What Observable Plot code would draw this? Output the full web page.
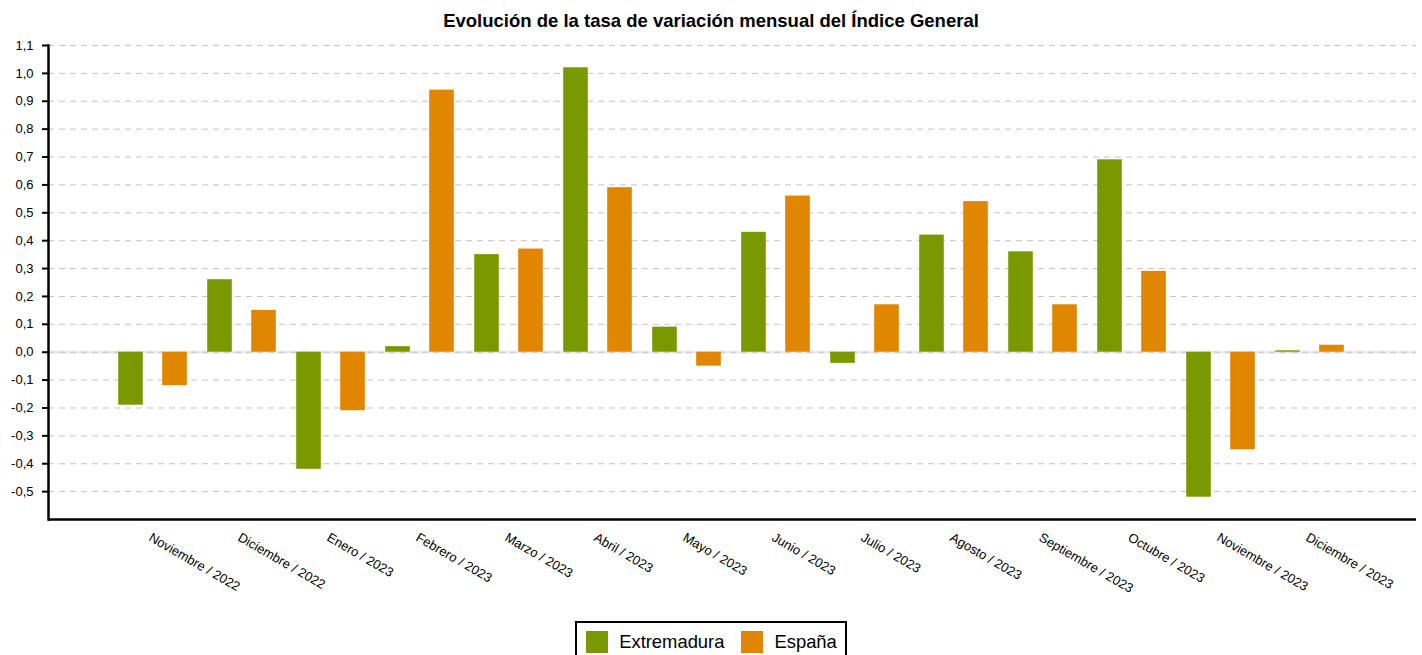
<!DOCTYPE html>
<html>
<head>
<meta charset="utf-8">
<script src="https://cdn.jsdelivr.net/npm/d3@7"></script>
<script src="https://cdn.jsdelivr.net/npm/@observablehq/plot@0.6"></script>
<style>
  body { margin: 0; background: #fff; font-family: "Liberation Sans", Arial, sans-serif; }
  #title { height: 34px; box-sizing: border-box; padding-top: 10px; line-height: 22px; text-align: center; font-weight: bold; font-size: 18.5px; color: #000; }
  #chart svg { display: block; }
  #legend { display: flex; justify-content: center; margin-top: 21px; }
  #legend .box { display: inline-flex; align-items: center; border: 2px solid #000; padding: 8px 8px 8px 9px; font-size: 18.4px; color: #000; }
  #legend .sw { width: 22px; height: 22px; margin-right: 11px; }
  #legend .item { display: inline-flex; align-items: center; }
  #legend .item + .item { margin-left: 17px; }
</style>
</head>
<body>
<div id="title">Evolución de la tasa de variación mensual del Índice General</div>
<div id="chart"></div>
<div id="legend"></div>
<script>
const months = ["Noviembre / 2022", "Diciembre / 2022", "Enero / 2023", "Febrero / 2023", "Marzo / 2023", "Abril / 2023", "Mayo / 2023", "Junio / 2023", "Julio / 2023", "Agosto / 2023", "Septiembre / 2023", "Octubre / 2023", "Noviembre / 2023", "Diciembre / 2023"];
const series = ["Extremadura", "España"];
const extremadura = [-0.19, 0.26, -0.42, 0.02, 0.35, 1.02, 0.09, 0.43, -0.04, 0.42, 0.36, 0.69, -0.52, 0.005];
const espana = [-0.12, 0.15, -0.21, 0.94, 0.37, 0.59, -0.05, 0.56, 0.17, 0.54, 0.17, 0.29, -0.35, 0.025];
const colors = ["#7a9900", "#e08600"];
const yTicks = [-0.5, -0.4, -0.3, -0.2, -0.1, 0, 0.1, 0.2, 0.3, 0.4, 0.5, 0.6, 0.7, 0.8, 0.9, 1.0, 1.1];

const rowsExt = months.map((m, i) => ({month: m, value: extremadura[i]}));
const rowsEsp = months.map((m, i) => ({month: m, value: espana[i]}));

const fmt = d => d.toFixed(1).replace(".", ",");

const plot = Plot.plot({
  width: 1422,
  height: 566,
  marginLeft: 48,
  marginRight: 6,
  marginTop: 11,
  marginBottom: 81,
  style: {fontFamily: "'Liberation Sans', Arial, sans-serif", fontSize: "13px", color: "#000", background: "#fff"},
  x: {domain: months, padding: 0, paddingOuter: 0.653, label: null},
  y: {domain: [-0.6, 1.1], label: null},
  marks: [
    Plot.ruleY([0], {stroke: "#ececec", strokeWidth: 3}),
    Plot.gridY(yTicks, {stroke: "#c4c4c4", strokeOpacity: 1, strokeDasharray: "6,5"}),
    Plot.barY(rowsExt, {x: "month", y: "value", fill: colors[0], dx: -23, insetLeft: 32.2, insetRight: 32.2}),
    Plot.barY(rowsEsp, {x: "month", y: "value", fill: colors[1], dx: 21, insetLeft: 32.2, insetRight: 32.2}),
    Plot.axisY(yTicks, {tickFormat: fmt, tickSize: 6, tickPadding: 9, stroke: "#000", strokeWidth: 2, fontSize: 13}),
    Plot.axisX({tickRotate: 30, tickSize: 0, tickPadding: 17, dx: -4, fontSize: 13}),
    Plot.ruleY([-0.6], {stroke: "#000", strokeWidth: 2.5}),
    Plot.frame({anchor: "left", stroke: "#000", strokeWidth: 2.5})
  ]
});
document.getElementById("chart").appendChild(plot);

const box = document.createElement("div");
box.className = "box";
series.forEach((s, i) => {
  const item = document.createElement("span");
  item.className = "item";
  const sw = document.createElement("span");
  sw.className = "sw";
  sw.style.background = colors[i];
  item.appendChild(sw);
  item.appendChild(document.createTextNode(s));
  box.appendChild(item);
});
document.getElementById("legend").appendChild(box);
</script>
</body>
</html>
